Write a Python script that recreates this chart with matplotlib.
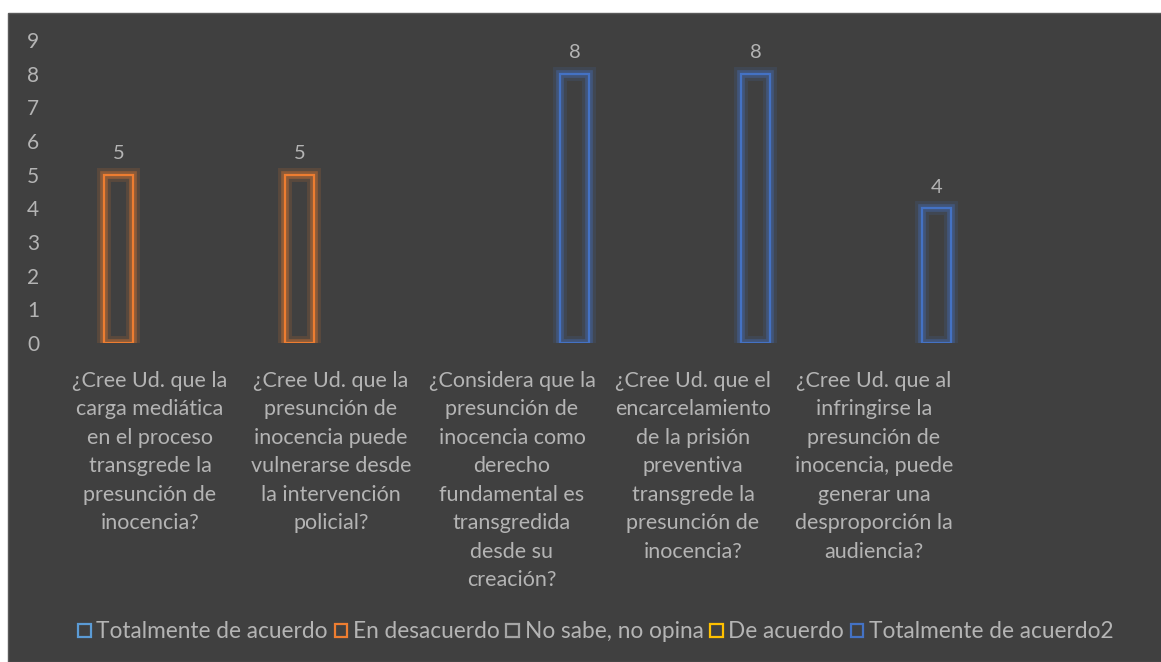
import numpy as np
import matplotlib
matplotlib.use("Agg")
import matplotlib.pyplot as plt
import matplotlib.patheffects as pe
from matplotlib.patches import Rectangle, Patch

# categories (questions) and series counts
preguntas = [
    "¿Cree Ud. que la\ncarga mediática\nen el proceso\ntransgrede la\npresunción de\ninocencia?",
    "¿Cree Ud. que la\npresunción de\ninocencia puede\nvulnerarse desde\nla intervención\npolicial?",
    "¿Considera que la\npresunción de\ninocencia como\nderecho\nfundamental es\ntransgredida\ndesde su\ncreación?",
    "¿Cree Ud. que el\nencarcelamiento\nde la prisión\npreventiva\ntransgrede la\npresunción de\ninocencia?",
    "¿Cree Ud. que al\ninfringirse la\npresunción de\ninocencia, puede\ngenerar una\ndesproporción la\naudiencia?",
]
series = ["Totalmente de acuerdo", "En desacuerdo", "No sabe, no opina",
          "De acuerdo", "Totalmente de acuerdo2"]
totalmente = [np.nan, np.nan, np.nan, np.nan, np.nan]
desacuerdo = [5, 5, np.nan, np.nan, np.nan]
no_sabe = [np.nan, np.nan, np.nan, np.nan, np.nan]
de_acuerdo = [np.nan, np.nan, np.nan, np.nan, np.nan]
totalmente2 = [np.nan, np.nan, 8, 8, 4]
valores = [totalmente, desacuerdo, no_sabe, de_acuerdo, totalmente2]
colores = ["#5B9BD5", "#ED7D31", "#A5A5A5", "#FFC000", "#4472C4"]

bg = "#404040"
txt = "#b4b4b4"
plt.rcParams['font.family'] = ['Lato', 'DejaVu Sans']

fig = plt.figure(figsize=(11.61, 6.62), dpi=100)
fig.patch.set_facecolor("white")
fig.patches.append(Rectangle((8/1161, 0), 1, 649/662, transform=fig.transFigure,
                             facecolor=bg, edgecolor="#5a5a5a", lw=1, zorder=-5))

ax = fig.add_axes([59.5/1161, (662-343)/662, 1086/1161, 303/662])
ax.set_facecolor("none")
ax.set_zorder(2)

x = np.arange(len(preguntas))
w = 0.173
for k in range(len(series)):
    pos = x + (k - 2) * w
    bars = ax.bar(pos, valores[k], width=w*0.93, facecolor="none",
                  edgecolor=colores[k], linewidth=1.6,
                  path_effects=[pe.Stroke(linewidth=10, foreground=colores[k], alpha=0.15),
                                pe.Stroke(linewidth=5.5, foreground=colores[k], alpha=0.35),
                                pe.Normal()])
    for p, v in zip(pos, valores[k]):
        if not np.isnan(v):
            ax.text(p, v + 0.38, "%d" % v, ha="center", va="bottom",
                    color=txt, fontsize=14.5)

ax.set_xlim(-0.5, 5.5)
ax.set_ylim(0, 9)
ax.set_yticks(range(10))
ax.set_xticks(x)
ax.set_xticklabels(preguntas, color=txt, fontsize=15.5, linespacing=1.53)
ax.tick_params(axis="y", colors=txt, labelsize=15, length=0, pad=23.4)
ax.tick_params(axis="x", length=0, pad=20)
for lab in ax.get_yticklabels():
    lab.set_horizontalalignment("left")
for s in ax.spines.values():
    s.set_visible(False)

handles = [Patch(facecolor="none", edgecolor=c, linewidth=1.6) for c in colores]
fig.legend(handles, series, loc="center", bbox_to_anchor=(596/1161, 1 - 632/662),
           ncol=5, frameon=False, fontsize=16.3, labelcolor=txt,
           handlelength=0.55, handleheight=0.55, handletextpad=0.25, columnspacing=0.3)

fig.savefig("out.png", dpi=100, facecolor=fig.get_facecolor())
